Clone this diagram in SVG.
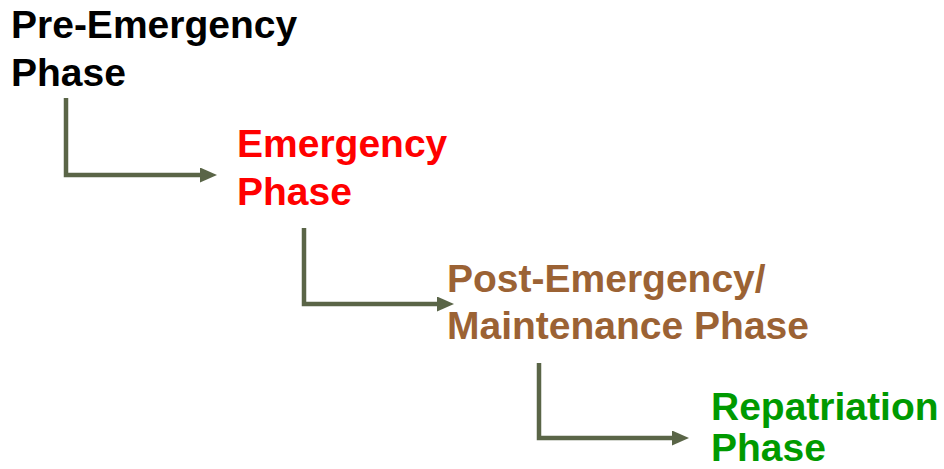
<svg xmlns="http://www.w3.org/2000/svg" width="944" height="469" viewBox="0 0 944 469">
<style>
text{font-family:"Liberation Sans",Arial,sans-serif;font-weight:bold;font-size:39px}
.c{fill:none;stroke:#5a6547;stroke-width:4.5}
</style>
<defs>
<marker id="ah" markerUnits="userSpaceOnUse" markerWidth="18" markerHeight="16" refX="0" refY="7.5" orient="auto">
<path d="M0,0 L17,7.5 L0,15 z" fill="#5a6547"/>
</marker>
</defs>
<rect width="944" height="469" fill="#fff"/>
<g id="connectors">
<path class="c" d="M66,98 V175 H200" marker-end="url(#ah)"/>
<path class="c" d="M304,228 V304 H437" marker-end="url(#ah)"/>
<path class="c" d="M539,363 V438 H672" marker-end="url(#ah)"/>
</g>
<g id="pre">
<text x="11" y="38" fill="#000">Pre-Emergency</text>
<text x="11" y="86" fill="#000">Phase</text>
</g>
<g id="emergency">
<text x="237" y="157" fill="#ff0000">Emergency</text>
<text x="237" y="205" fill="#ff0000">Phase</text>
</g>
<g id="post">
<text x="447" y="292" fill="#9b6234">Post-Emergency/</text>
<text x="447" y="339" fill="#9b6234">Maintenance Phase</text>
</g>
<g id="repatriation">
<text x="711" y="420" fill="#009a00">Repatriation</text>
<text x="711" y="461" fill="#009a00">Phase</text>
</g>
</svg>
